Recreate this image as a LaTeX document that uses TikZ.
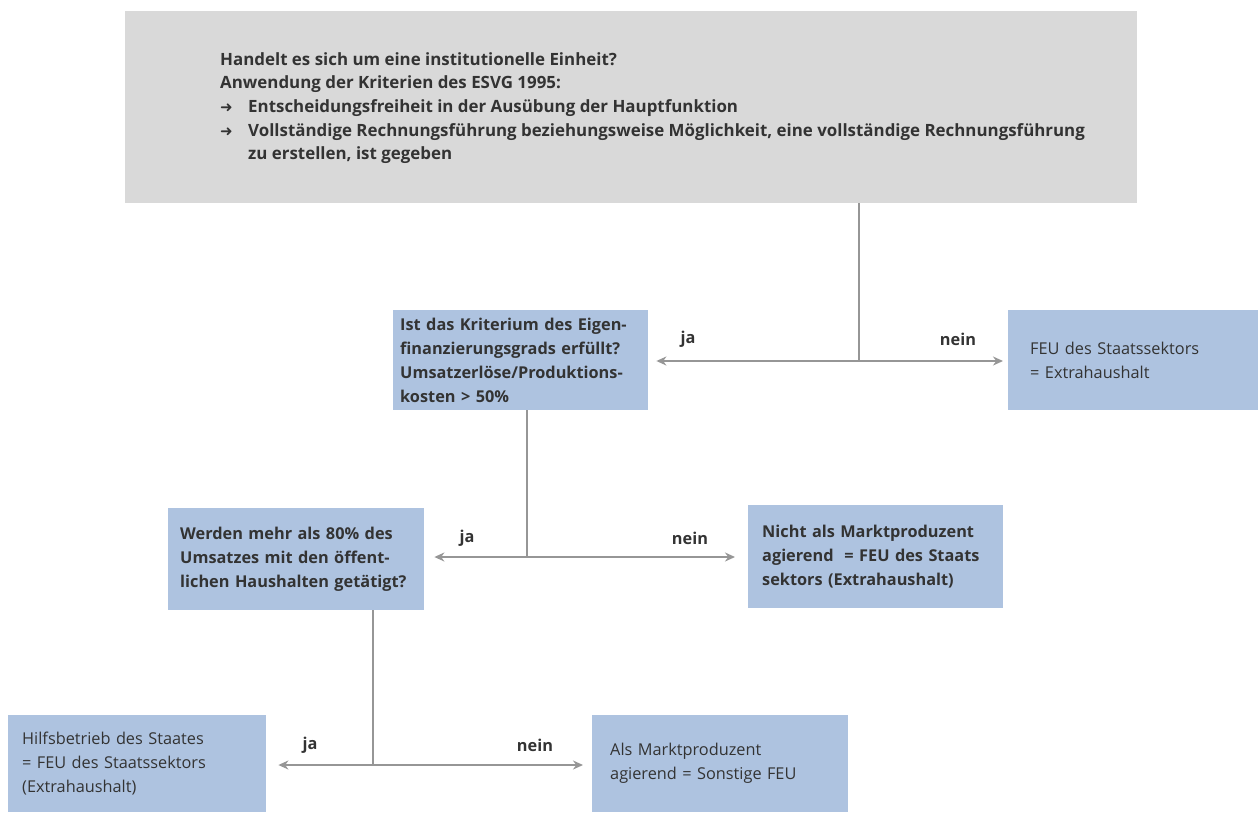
\documentclass[tikz,border=0pt]{standalone}
\usepackage{fontspec}
\setmainfont{Open Sans}
\newfontfamily\symfont{DejaVu Sans}
\usetikzlibrary{arrows.meta}
\definecolor{kastenblau}{RGB}{174,195,224}
\definecolor{kastengrau}{RGB}{217,217,217}
\definecolor{linie}{RGB}{150,150,150}
\definecolor{schrift}{RGB}{51,51,51}
\newcommand{\pfeilpunkt}{\makebox[28pt][l]{\symfont\fontsize{15}{24}\selectfont ➜}}
\tikzstyle{frage}=[rectangle, fill=kastenblau, text=schrift, anchor=north west, align=left, inner ysep=0pt, font=\fontsize{16.3}{24}\selectfont\bfseries]
\tikzstyle{ergebnis}=[frage, font=\fontsize{16.3}{24}\selectfont]
\tikzstyle{antwort}=[text=schrift, inner sep=0pt, font=\fontsize{16.3}{24}\selectfont\bfseries]
\tikzstyle{ast}=[linie, line width=2.5pt]
\tikzstyle{pfeil}=[ast, {Stealth[length=10pt,width=9pt]}-{Stealth[length=10pt,width=9pt]}]

\begin{document}
\begin{tikzpicture}[x=1pt, y=-1pt]
                \useasboundingbox (0,0) rectangle (1258,812);
                \node[rectangle, fill=kastengrau, anchor=north west, minimum width=1012, minimum height=192, inner sep=0pt] (kopf) at (125,11) {};
                \node[anchor=north west, inner sep=0pt, text=schrift, align=left, font=\fontsize{16.9}{23.7}\selectfont\bfseries] (kopftext) at (220,52) {Handelt es sich um eine institutionelle Einheit?\\
                    Anwendung der Kriterien des ESVG 1995:\\
                    \pfeilpunkt Entscheidungsfreiheit in der Ausübung der Hauptfunktion\\
                    \pfeilpunkt Vollständige Rechnungsführung beziehungsweise Möglichkeit, eine vollständige Rechnungsführung\\
                    \hspace*{28pt}zu erstellen, ist gegeben};
                \node[frage, text width=241, inner xsep=7, minimum height=100] (frageA) at (393,310) {Ist das Kriterium des Eigen-\\finanzierungsgrads erfüllt?\\Umsatzerlöse/Produktions-\\kosten > 50\%};
                \node[ergebnis, text width=228, inner xsep=22, minimum height=100] (feu) at (1008,310) {FEU des Staatssektors\\= Extrahaushalt};
                \node[frage, text width=232, inner xsep=12, minimum height=102] (frageB) at (168,508) {Werden mehr als 80\% des\\Umsatzes mit den öffent-\\lichen Haushalten getätigt?};
                \node[frage, text width=227, inner xsep=14, minimum height=103] (nicht) at (748,505) {Nicht als Marktproduzent\\agierend \ = FEU des Staats\\sektors (Extrahaushalt)};
                \node[ergebnis, text width=230, inner xsep=14, minimum height=97] (hilfs) at (8,715) {Hilfsbetrieb des Staates\\= FEU des Staatssektors\\(Extrahaushalt)};
                \node[ergebnis, text width=220, inner xsep=18, minimum height=97] (markt) at (592,715) {Als Marktproduzent\\agierend = Sonstige FEU};
                \coordinate (j1) at (859,361);
                \coordinate (j2) at (527,557);
                \coordinate (j3) at (373,765);
                \draw[ast] (kopf.south -| j1) -- (j1);
                \draw[pfeil] ([xshift=8pt]frageA.east |- j1) -- ([xshift=-5pt]feu.west |- j1);
                \draw[ast] (frageA.south -| j2) -- (j2);
                \draw[pfeil] ([xshift=10pt]frageB.east |- j2) -- ([xshift=-13pt]nicht.west |- j2);
                \draw[ast] (frageB.south -| j3) -- (j3);
                \draw[pfeil] ([xshift=12pt]hilfs.east |- j3) -- ([xshift=-9pt]markt.west |- j3);
                \node[antwort] (ja1) at (688,339) {ja};
                \node[antwort] (nein1) at (958,339) {nein};
                \node[antwort] (ja2) at (467,538) {ja};
                \node[antwort] (nein2) at (690,538) {nein};
                \node[antwort] (ja3) at (310,745) {ja};
                \node[antwort] (nein3) at (535,745) {nein};
            \end{tikzpicture}
\end{document}
